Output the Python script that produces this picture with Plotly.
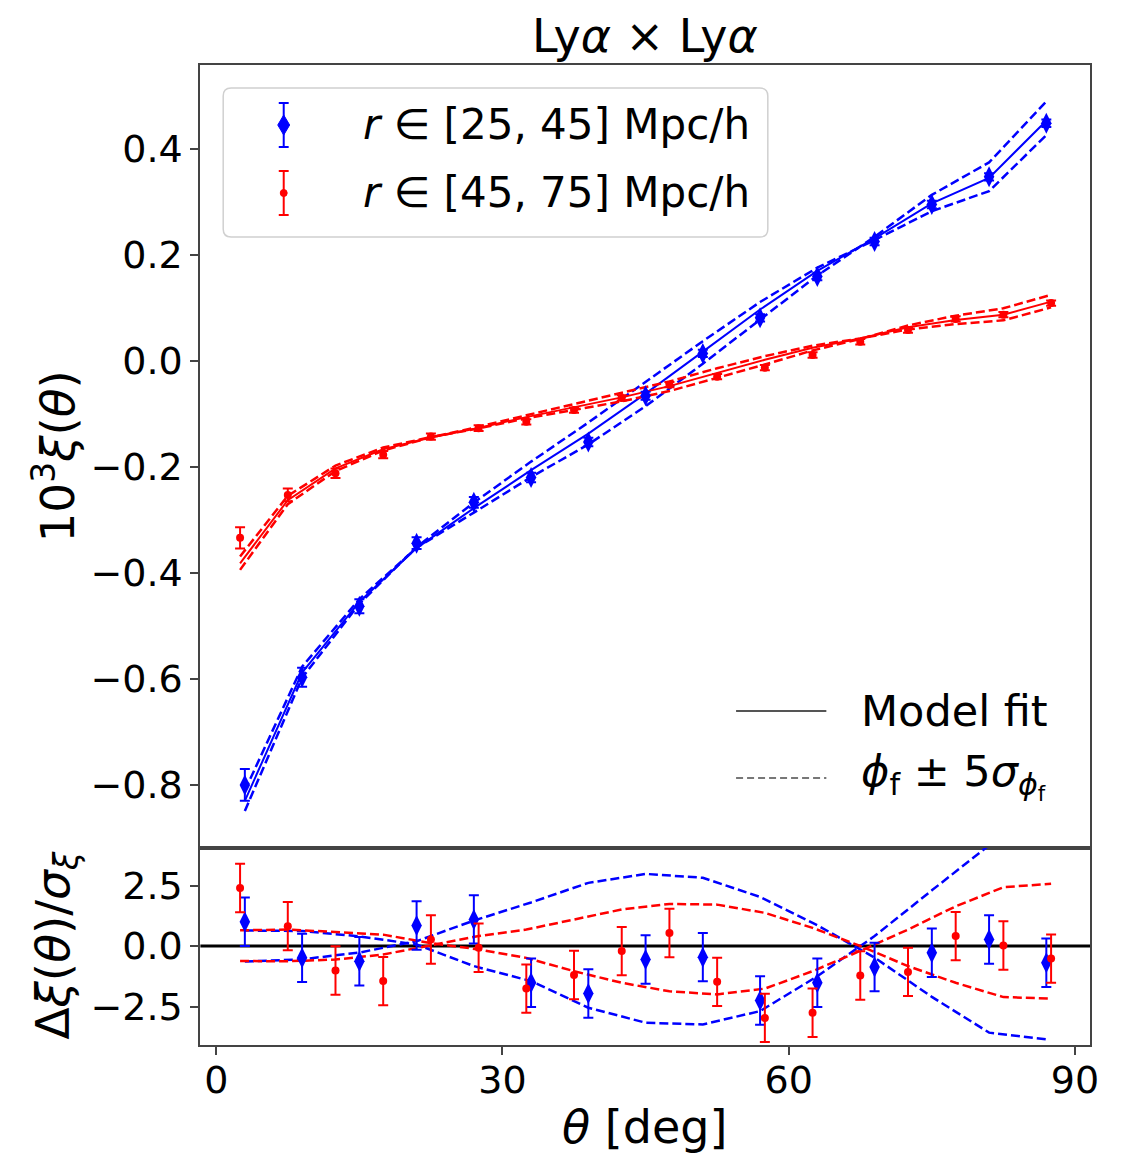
import plotly.graph_objects as go

# ---------------- data ----------------
theta_b = [3, 9, 15, 21, 27, 33, 39, 45, 51, 57, 63, 69, 75, 81, 87]
xi_b = [-0.800, -0.597, -0.463, -0.344, -0.267, -0.220, -0.153, -0.066,
        0.014, 0.081, 0.159, 0.225, 0.295, 0.347, 0.448]
err_b = [0.030, 0.018, 0.013, 0.011, 0.010, 0.009, 0.008, 0.0075,
         0.007, 0.007, 0.007, 0.007, 0.007, 0.007, 0.007]
res_b = [1.00, -0.49, -0.63, 0.85, 1.10, -1.52, -1.96, -0.56,
         -0.46, -2.25, -1.52, -0.87, -0.28, 0.27, -0.69]
dA_b = [0.64, 0.62, 0.40, 0.06, -0.83, -1.45, -2.55, -3.17,
        -3.24, -2.69, -1.25, 0.41, 2.30, 4.16, 5.20]
dB_b = [-0.64, -0.55, -0.27, 0.20, 1.05, 1.80, 2.61, 2.98,
        2.82, 2.03, 0.86, -0.48, -2.10, -3.58, -3.86]

theta_r = [2.5, 7.5, 12.5, 17.5, 22.5, 27.5, 32.5, 37.5, 42.5,
           47.5, 52.5, 57.5, 62.5, 67.5, 72.5, 77.5, 82.5, 87.5]
xi_r = [-0.334, -0.253, -0.212, -0.177, -0.143, -0.127, -0.115, -0.093, -0.070,
        -0.045, -0.030, -0.013, 0.011, 0.036, 0.058, 0.079, 0.087, 0.109]
err_r = [0.020, 0.012, 0.009, 0.007, 0.006, 0.0055, 0.005, 0.005, 0.005,
         0.005, 0.005, 0.005, 0.005, 0.005, 0.005, 0.005, 0.005, 0.005]
res_r = [2.40, 0.82, -1.01, -1.45, 0.27, -0.07, -1.76, -1.20, -0.21,
         0.54, -1.48, -2.97, -2.76, -1.22, -1.07, 0.41, 0.02, -0.52]
dA_r = [0.65, 0.68, 0.58, 0.47, 0.12, -0.14, -0.49, -1.04, -1.52,
        -1.87, -2.00, -1.76, -1.04, -0.20, 0.68, 1.64, 2.43, 2.57]
dB_r = [-0.62, -0.63, -0.56, -0.35, 0.03, 0.41, 0.68, 1.10, 1.51,
        1.74, 1.71, 1.37, 0.75, 0.00, -0.83, -1.52, -2.11, -2.17]

top_ticks = [-0.8, -0.6, -0.4, -0.2, 0.0, 0.2, 0.4]
bot_ticks = [-2.5, 0.0, 2.5]
x_ticks = [0, 30, 60, 90]

# model curves consistent with residuals
model_b = [x - r * e for x, r, e in zip(xi_b, res_b, err_b)]
hiA_b = [m + d * e for m, d, e in zip(model_b, dA_b, err_b)]
hiB_b = [m + d * e for m, d, e in zip(model_b, dB_b, err_b)]
model_r = [x - r * e for x, r, e in zip(xi_r, res_r, err_r)]
hiA_r = [m + d * e for m, d, e in zip(model_r, dA_r, err_r)]
hiB_r = [m + d * e for m, d, e in zip(model_r, dB_r, err_r)]

# ---------------- figure ----------------
W, H = 1126, 1154
def px(x): return x / W
def py(y): return 1 - y / H

BLUE = "#0000ff"
RED = "#ff0000"
FONT = "DejaVu Sans"
DASH = "9px,4px"

fig = go.Figure()

# top panel
for th, m, a, b, col in [(theta_b, model_b, hiA_b, hiB_b, BLUE),
                         (theta_r, model_r, hiA_r, hiB_r, RED)]:
    fig.add_trace(go.Scatter(x=th, y=a, mode="lines", xaxis="x", yaxis="y",
                             line=dict(color=col, width=2.5, dash=DASH)))
    fig.add_trace(go.Scatter(x=th, y=b, mode="lines", xaxis="x", yaxis="y",
                             line=dict(color=col, width=2.5, dash=DASH)))
    fig.add_trace(go.Scatter(x=th, y=m, mode="lines", xaxis="x", yaxis="y",
                             line=dict(color=col, width=2)))

fig.add_trace(go.Scatter(x=theta_b, y=xi_b, mode="markers", xaxis="x", yaxis="y",
                         marker=dict(symbol="diamond-tall", size=15, color=BLUE),
                         error_y=dict(type="data", array=err_b, color=BLUE,
                                      thickness=2, width=5)))
fig.add_trace(go.Scatter(x=theta_r, y=xi_r, mode="markers", xaxis="x", yaxis="y",
                         marker=dict(symbol="circle", size=8, color=RED),
                         error_y=dict(type="data", array=err_r, color=RED,
                                      thickness=2, width=5)))

# bottom panel
for th, a, b, col in [(theta_b, dA_b, dB_b, BLUE), (theta_r, dA_r, dB_r, RED)]:
    fig.add_trace(go.Scatter(x=th, y=a, mode="lines", xaxis="x2", yaxis="y2",
                             line=dict(color=col, width=2.5, dash=DASH)))
    fig.add_trace(go.Scatter(x=th, y=b, mode="lines", xaxis="x2", yaxis="y2",
                             line=dict(color=col, width=2.5, dash=DASH)))

fig.add_trace(go.Scatter(x=theta_b, y=res_b, mode="markers", xaxis="x2", yaxis="y2",
                         marker=dict(symbol="diamond-tall", size=15, color=BLUE),
                         error_y=dict(type="constant", value=1, color=BLUE,
                                      thickness=2, width=5)))
fig.add_trace(go.Scatter(x=theta_r, y=res_r, mode="markers", xaxis="x2", yaxis="y2",
                         marker=dict(symbol="circle", size=8, color=RED),
                         error_y=dict(type="constant", value=1, color=RED,
                                      thickness=2, width=5)))

XR = [-1.66, 91.6]
axis_common = dict(showline=True, linecolor="#444", linewidth=2, mirror=True,
                   showgrid=False, zeroline=False,
                   tickfont=dict(family=FONT, size=38, color="black"),
                   ticklen=8, tickwidth=2, tickcolor="#444")

fig.update_layout(
    width=W, height=H, margin=dict(l=0, r=0, t=0, b=0),
    paper_bgcolor="white", plot_bgcolor="white", showlegend=False,
    font=dict(family=FONT, color="black"),
    xaxis=dict(domain=[px(202), px(1099)], anchor="y", range=XR,
               showticklabels=False, ticks="", **axis_common),
    yaxis=dict(domain=[py(848), py(65)], anchor="x", range=[-0.919, 0.558],
               tickvals=top_ticks, tickformat=".1f", ticks="outside", **axis_common),
    xaxis2=dict(domain=[px(202), px(1099)], anchor="y2", range=XR, matches="x",
                tickvals=x_ticks, ticks="outside", ticklabelstandoff=-8, **axis_common),
    yaxis2=dict(domain=[py(1045), py(848)], anchor="x2", range=[-4.09, 4.05],
                tickvals=bot_ticks, tickformat=".1f", ticks="outside", **axis_common),
)

shapes = []
# zero line in residual panel
shapes.append(dict(type="line", xref="x2 domain", yref="y2", x0=0, x1=1, y0=0, y1=0,
                   line=dict(color="black", width=3), layer="below"))

# legend box (rounded)
def rrect(x0, y0, x1, y1, r):
    return (f"M {px(x0+r)},{py(y0)} L {px(x1-r)},{py(y0)} Q {px(x1)},{py(y0)} {px(x1)},{py(y0+r)} "
            f"L {px(x1)},{py(y1-r)} Q {px(x1)},{py(y1)} {px(x1-r)},{py(y1)} "
            f"L {px(x0+r)},{py(y1)} Q {px(x0)},{py(y1)} {px(x0)},{py(y1-r)} "
            f"L {px(x0)},{py(y0+r)} Q {px(x0)},{py(y0)} {px(x0+r)},{py(y0)} Z")

shapes.append(dict(type="path", xref="paper", yref="paper", path=rrect(225, 88, 774, 237, 8),
                   line=dict(color="#d0d0d0", width=1.5), fillcolor="rgba(255,255,255,0.8)"))

def errkey(xc, yc, half, cap, col):
    return [dict(type="line", xref="paper", yref="paper", x0=px(xc), x1=px(xc),
                 y0=py(yc - half), y1=py(yc + half), line=dict(color=col, width=2)),
            dict(type="line", xref="paper", yref="paper", x0=px(xc - cap), x1=px(xc + cap),
                 y0=py(yc - half), y1=py(yc - half), line=dict(color=col, width=2)),
            dict(type="line", xref="paper", yref="paper", x0=px(xc - cap), x1=px(xc + cap),
                 y0=py(yc + half), y1=py(yc + half), line=dict(color=col, width=2))]

shapes += errkey(286, 125, 22, 5, BLUE)
shapes.append(dict(type="path", xref="paper", yref="paper",
                   path=f"M {px(286)},{py(115)} L {px(292)},{py(125)} L {px(286)},{py(135)} L {px(280)},{py(125)} Z",
                   fillcolor=BLUE, line=dict(color=BLUE, width=1)))
shapes += errkey(286, 193, 22, 5, RED)
shapes.append(dict(type="circle", xref="paper", yref="paper",
                   x0=px(282.5), x1=px(289.5), y0=py(189.5), y1=py(196.5),
                   fillcolor=RED, line=dict(color=RED, width=1)))

# model legend keys
shapes.append(dict(type="line", xref="paper", yref="paper", x0=px(742), x1=px(833),
                   y0=py(711), y1=py(711), line=dict(color="#555", width=2)))
shapes.append(dict(type="line", xref="paper", yref="paper", x0=px(742), x1=px(833),
                   y0=py(778), y1=py(778), line=dict(color="#777", width=2, dash="7px,4px")))

LEG = 42
annotations = [
    dict(text="Ly<i>α</i> × Ly<i>α</i>", x=px(650), y=py(36), xref="paper", yref="paper",
         showarrow=False, font=dict(family=FONT, size=46), xanchor="center", yanchor="middle"),
    dict(text="<i>r</i> ∈ [25, 45] Mpc/h", x=px(364), y=py(125), xref="paper", yref="paper",
         showarrow=False, font=dict(family=FONT, size=LEG), xanchor="left", yanchor="middle"),
    dict(text="<i>r</i> ∈ [45, 75] Mpc/h", x=px(364), y=py(192), xref="paper", yref="paper",
         showarrow=False, font=dict(family=FONT, size=LEG), xanchor="left", yanchor="middle"),
    dict(text="Model fit", x=px(866), y=py(711), xref="paper", yref="paper",
         showarrow=False, font=dict(family=FONT, size=43), xanchor="left", yanchor="middle"),
    dict(text="<i>ϕ</i><sub>f</sub> ± 5<i>σ</i><sub><i>ϕ</i><sub>f</sub></sub>",
         x=px(866), y=py(776), xref="paper", yref="paper",
         showarrow=False, font=dict(family=FONT, size=43), xanchor="left", yanchor="middle"),
    dict(text="10<sup>3</sup><i>ξ</i>(<i>θ</i>)", x=px(55), y=py(457), xref="paper", yref="paper",
         showarrow=False, textangle=-90, font=dict(family=FONT, size=47),
         xanchor="center", yanchor="middle"),
    dict(text="Δ<i>ξ</i>(<i>θ</i>)/<i>σ</i><sub><i>ξ</i></sub>", x=px(56), y=py(946),
         xref="paper", yref="paper", showarrow=False, textangle=-90,
         font=dict(family=FONT, size=47), xanchor="center", yanchor="middle"),
    dict(text="<i>θ</i> [deg]", x=px(650), y=py(1127), xref="paper", yref="paper",
         showarrow=False, font=dict(family=FONT, size=46), xanchor="center", yanchor="middle"),
]

fig.update_layout(shapes=shapes, annotations=annotations)
fig.write_html("out.html")
